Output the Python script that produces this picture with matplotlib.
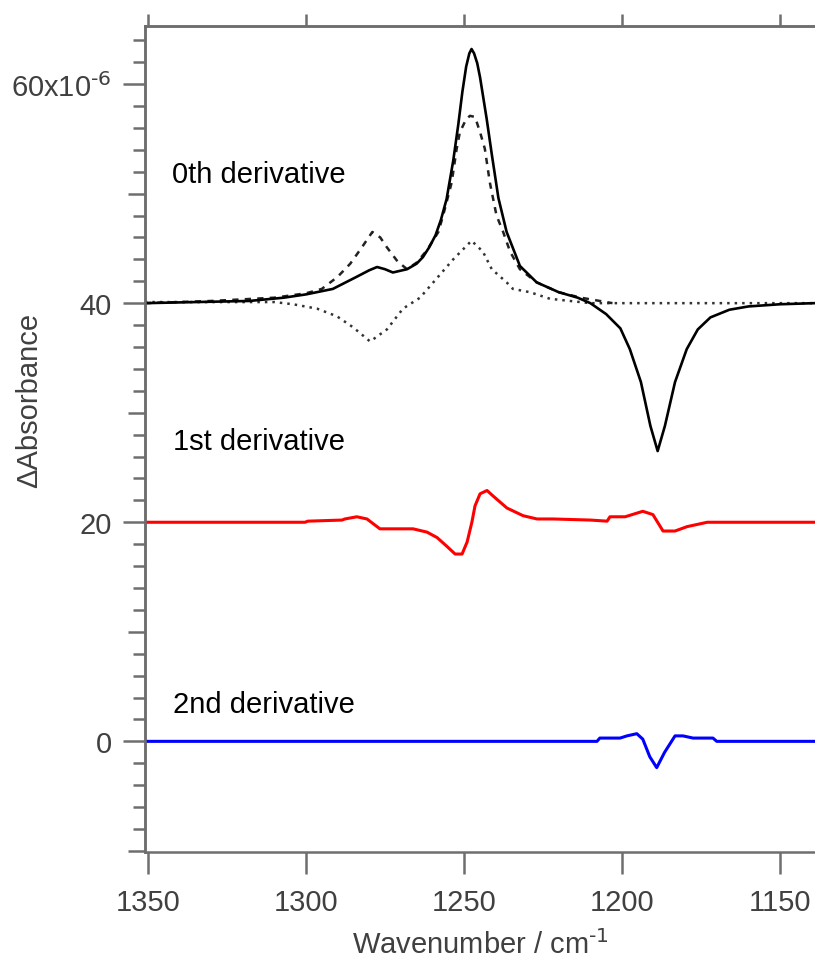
import matplotlib
matplotlib.use("Agg")
import matplotlib.pyplot as plt
from matplotlib import font_manager

# ---------------- data (x in cm^-1, y in 1e-6 absorbance units) ----------------
solid_wn = [1351, 1335, 1318, 1307, 1300, 1291.5, 1284, 1280, 1277.5, 1275, 1272.5, 1268,
            1265, 1263, 1261, 1259, 1257.3, 1255.5, 1253.4, 1251.8, 1250.5, 1249.3, 1248.3,
            1247.6, 1246.8, 1245.8, 1244.9, 1242.8, 1241.2, 1239.1, 1236.5, 1232.3, 1227,
            1220, 1214, 1210, 1205, 1200.5, 1197.5, 1194, 1191, 1188.7, 1186.4, 1183.2,
            1179.5, 1176, 1172, 1166, 1160, 1150, 1139]
solid_y = [40.0, 40.1, 40.2, 40.5, 40.8, 41.3, 42.4, 43.0, 43.3, 43.1, 42.8, 43.1,
           43.6, 44.2, 45.1, 46.2, 47.6, 49.5, 53.0, 56.3, 59.3, 61.6, 62.8,
           63.2, 62.8, 61.9, 60.6, 56.8, 53.6, 49.6, 46.5, 43.4, 41.9,
           41.0, 40.5, 40.0, 39.0, 37.7, 35.8, 32.8, 28.8, 26.5, 28.8, 32.8,
           35.8, 37.6, 38.7, 39.4, 39.7, 39.9, 40.0]

dashed_wn = [1351, 1330, 1310, 1300, 1295, 1290, 1286, 1282.3, 1279, 1276.5, 1274.4, 1271,
             1268, 1265, 1261.8, 1258.1, 1256.6, 1253.9, 1252.3, 1251.3, 1249.3, 1248.1,
             1246.5, 1244.9, 1243.4, 1241.8, 1239.7, 1237.6, 1235.4, 1232.3, 1227, 1220,
             1213, 1207, 1203]
dashed_y = [40.0, 40.2, 40.5, 40.9, 41.3, 42.4, 43.6, 45.1, 46.5, 46.0, 45.1, 43.8,
            43.1, 43.7, 44.8, 46.5, 48.0, 51.0, 54.1, 55.6, 56.8, 57.1,
            57.0, 55.6, 54.1, 51.0, 48.0, 46.5, 44.7, 43.1, 41.9, 41.0,
            40.5, 40.2, 40.0]

dotted_wn = [1351, 1310, 1304.1, 1296.5, 1290.2, 1285.1, 1279.7, 1274.4, 1269.3, 1263.9,
             1259.7, 1253.4, 1247.6, 1244, 1241.2, 1236.5, 1234.5, 1229.1, 1222.8, 1210, 1139]
dotted_y = [40.1, 40.1, 39.9, 39.5, 38.8, 37.8, 36.5, 37.6, 39.5, 40.5,
            41.9, 44.0, 45.7, 44.7, 43.1, 41.9, 41.3, 41.0, 40.4, 40.0, 40.0]

first_wn = [1351, 1300.3, 1299.4, 1288.6, 1287.7, 1283.9, 1280.7, 1276.6, 1266.1, 1261.7,
            1258.5, 1255.4, 1252.8, 1250.6, 1249, 1247.5, 1246.5, 1244.9, 1242.7, 1240.8,
            1236.4, 1231.3, 1226.9, 1221.8, 1210, 1204.7, 1203.8, 1199, 1193.4, 1190.2,
            1187, 1183.2, 1179.4, 1173, 1139]
first_y = [20.0, 20.0, 20.1, 20.2, 20.3, 20.5, 20.3, 19.4, 19.4, 19.1,
           18.6, 17.8, 17.1, 17.1, 18.2, 20.0, 21.5, 22.6, 22.9, 22.4,
           21.3, 20.6, 20.3, 20.3, 20.2, 20.1, 20.5, 20.5, 21.0, 20.7,
           19.2, 19.2, 19.6, 20.0, 20.0]

second_wn = [1351, 1207.9, 1207, 1200.6, 1198.4, 1195.3, 1193.4, 1191.2, 1189, 1186.5,
             1183.2, 1180.7, 1177.5, 1171.2, 1170, 1139]
second_y = [0.0, 0.0, 0.3, 0.3, 0.5, 0.7, 0.2, -1.4, -2.4, -1.0,
            0.5, 0.5, 0.3, 0.3, 0.0, 0.0]

x_ticks = [1350, 1300, 1250, 1200, 1150]
y_ticks = [0, 20, 40, 60]
y_ticklabels = ["0", "20", "40", r"60x10$^{\text{-6}}$"]
y_mid_ticks = [-10, 10, 30, 50]
y_minor_ticks = [v for v in range(-10, 66, 2) if v % 10 != 0]
labels = ["0th derivative", "1st derivative", "2nd derivative"]
label_pos = [(1342.4, 51.1), (1342.2, 26.7), (1342.2, 2.7)]


def has_font(name):
    try:
        font_manager.findfont(font_manager.FontProperties(family=name), fallback_to_default=False)
        return True
    except Exception:
        return False


plt.rcParams['font.family'] = ['Liberation Sans', 'DejaVu Sans']
plt.rcParams['mathtext.default'] = 'regular'
ann_font = 'Liberation Sans Narrow' if has_font('Liberation Sans Narrow') else 'Liberation Sans'
ann_size = 25 if ann_font == 'Liberation Sans Narrow' else 21

axis_col = '#6e6e6e'
text_col = '#404040'
px = 1 / 1.389  # pixels -> points

fig = plt.figure(figsize=(8.15, 9.62), dpi=100)
ax = fig.add_axes([145 / 815, 1 - 853 / 962, 1 - 145 / 815, (853 - 27) / 962])

ax.plot(dotted_wn, dotted_y, color='#333333', lw=1.8, linestyle=(0, (1, 2)))
ax.plot(dashed_wn, dashed_y, color='#222222', lw=1.8, linestyle=(0, (2.5, 2.5)))
ax.plot(solid_wn, solid_y, color='black', lw=1.9)
ax.plot(first_wn, first_y, color='#ff0000', lw=2.2)
ax.plot(second_wn, second_y, color='#0000ff', lw=2.2)

ax.set_xlim(1350.95, 1138.9)
ax.set_ylim(-10.1, 65.3)

ax.spines['right'].set_visible(False)
for s in ['left', 'top', 'bottom']:
    ax.spines[s].set_color(axis_col)
    ax.spines[s].set_linewidth(1.8)

ax.set_xticks(x_ticks)
ax.set_xticklabels([str(v) for v in x_ticks])
ax.set_yticks(y_ticks)
ax.set_yticklabels(y_ticklabels)
ax.set_yticks(y_minor_ticks, minor=True)

ax.tick_params(axis='both', which='major', direction='out', length=22 * px, width=1.8,
               color=axis_col, labelcolor=text_col, labelsize=21)
ax.tick_params(axis='y', which='major', pad=8)
ax.tick_params(axis='x', which='major', pad=10)
ax.tick_params(axis='y', which='minor', direction='out', length=12 * px, width=1.8, color=axis_col)
ax.tick_params(axis='x', which='minor', bottom=False)

# medium ticks every 10 units
sec_y = ax.secondary_yaxis('left')
sec_y.set_yticks(y_mid_ticks)
sec_y.tick_params(axis='y', direction='out', length=17 * px, width=1.8, color=axis_col, labelleft=False)
sec_y.spines['left'].set_color(axis_col)
sec_y.spines['left'].set_linewidth(1.8)

# short ticks on top axis
sec_x = ax.secondary_xaxis('top')
sec_x.set_xticks(x_ticks)
sec_x.tick_params(axis='x', direction='out', length=12 * px, width=1.8, color=axis_col, labeltop=False)
sec_x.spines['top'].set_color(axis_col)
sec_x.spines['top'].set_linewidth(1.8)

ax.set_xlabel(r"Wavenumber / cm$^{\text{-1}}$", fontsize=21, color=text_col)
ax.xaxis.set_label_coords(0.5, (853 - 930) / 826)
ax.set_ylabel("ΔAbsorbance", fontsize=21, color=text_col)
ax.yaxis.set_label_coords((43 - 145) / 670, (853 - 400) / 826)

for txt, (xx, yy) in zip(labels, label_pos):
    ax.text(xx, yy, txt, family=[ann_font, 'DejaVu Sans'], fontsize=ann_size,
            color='black', ha='left', va='baseline')

fig.savefig('out.png', dpi=100)
